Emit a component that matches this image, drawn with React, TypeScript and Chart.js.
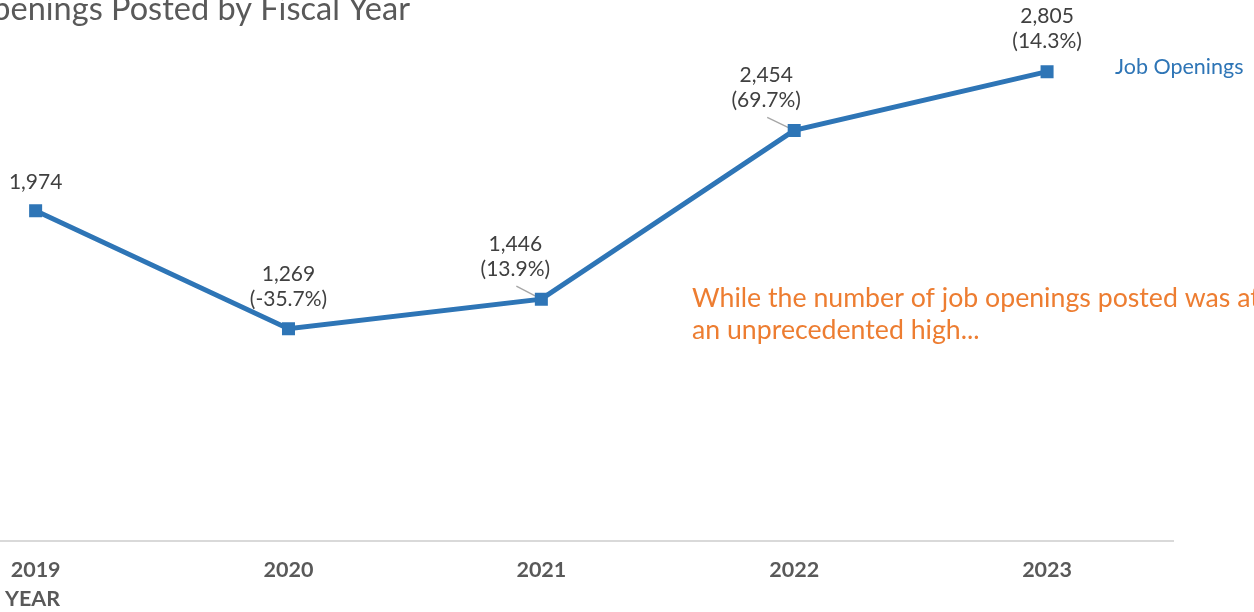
import React, { useEffect, useRef } from "react";
import { Chart, registerables } from "chart.js";

Chart.register(...registerables);

const CATEGORIES = ["2019", "2020", "2021", "2022", "2023"];
const JOB_OPENINGS = [1974, 1269, 1446, 2454, 2805];
const PCT_CHANGE: (string | null)[] = [null, "-35.7%", "13.9%", "69.7%", "14.3%"];
const SERIES_NAME = "Job Openings";
const TITLE = "Job Openings Posted by Fiscal Year";
const AXIS_TITLE = "FISCAL YEAR";
const NOTE_LINES = ["While the number of job openings posted was at", "an unprecedented high..."];

const BLUE = "#2E75B6";
const ORANGE = "#ED7D31";
const FONT = "Lato, 'Noto Sans', sans-serif";

// canvas is shifted left so the plot (as in the cropped original) extends off page
const SHIFT_X = 100;
const CANVAS_W = 1354;
const CANVAS_H = 612;

// label placement styles (pixel offsets relative to the point)
const LABEL_DX = [0, 0, -26, -28, 0];
const LEADER = [false, false, true, true, false];

const overlayPlugin = {
  id: "overlay",
  beforeDatasetsDraw(chart: any) {
    const ctx = chart.ctx;
    const meta = chart.getDatasetMeta(0);
    ctx.save();
    ctx.strokeStyle = "#A6A6A6";
    ctx.lineWidth = 1.3;
    meta.data.forEach((pt: any, i: number) => {
      if (!LEADER[i]) return;
      ctx.beginPath();
      ctx.moveTo(pt.x + LABEL_DX[i] + 1, pt.y - 13);
      ctx.lineTo(pt.x, pt.y);
      ctx.stroke();
    });
    ctx.restore();
  },
  afterDraw(chart: any) {
    const ctx = chart.ctx;
    const meta = chart.getDatasetMeta(0);
    ctx.save();
    // title
    ctx.font = `32.5px ${FONT}`;
    ctx.fillStyle = "#595959";
    ctx.textAlign = "right";
    ctx.textBaseline = "alphabetic";
    ctx.fillText(TITLE, 410 + SHIFT_X, 20);

    // data labels
    ctx.font = `21px ${FONT}`;
    ctx.fillStyle = "#404040";
    ctx.textAlign = "center";
    ctx.textBaseline = "middle";
    meta.data.forEach((pt: any, i: number) => {
      const v = JOB_OPENINGS[i].toLocaleString("en-US");
      const x = pt.x + LABEL_DX[i];
      const p = PCT_CHANGE[i];
      if (p) {
        ctx.fillText(v, x, pt.y - 55);
        ctx.fillText(`(${p})`, x, pt.y - 30);
      } else {
        ctx.fillText(v, x, pt.y - 29);
      }
    });

    // legend
    ctx.font = `21.5px ${FONT}`;
    ctx.fillStyle = BLUE;
    ctx.textAlign = "left";
    ctx.fillText(SERIES_NAME, 1115 + SHIFT_X, 67);

    // note
    ctx.font = `26.7px ${FONT}`;
    ctx.fillStyle = ORANGE;
    NOTE_LINES.forEach((t, i) => ctx.fillText(t, 692 + SHIFT_X, 298 + i * 32));

    // axis title
    ctx.font = `bold 21.5px ${FONT}`;
    ctx.fillStyle = "#595959";
    ctx.textAlign = "right";
    ctx.fillText(AXIS_TITLE, 60 + SHIFT_X, 599);
    ctx.restore();
  },
};

export default function App() {
  const ref = useRef<HTMLCanvasElement | null>(null);
  useEffect(() => {
    if (!ref.current) return;
    const chart = new Chart(ref.current, {
      type: "line",
      data: {
        labels: CATEGORIES,
        datasets: [
          {
            label: SERIES_NAME,
            data: JOB_OPENINGS,
            borderColor: BLUE,
            backgroundColor: BLUE,
            borderWidth: 5,
            tension: 0,
            pointStyle: "rect",
            pointRadius: 9.2,
            pointHoverRadius: 9.2,
            pointBackgroundColor: BLUE,
            pointBorderColor: BLUE,
            pointBorderWidth: 0,
          },
        ],
      },
      options: {
        responsive: false,
        animation: false,
        devicePixelRatio: 1,
        layout: { padding: { left: 8.5, right: 80.5, top: 39, bottom: 13 } },
        plugins: {
          legend: { display: false },
          title: { display: false },
          tooltip: { enabled: false },
        },
        scales: {
          x: {
            offset: true,
            grid: { display: true, color: "rgba(0,0,0,0)", drawTicks: false, drawOnChartArea: false },
            border: { display: true, color: "#D9D9D9", width: 2 },
            ticks: {
              padding: 16,
              color: "#595959",
              font: { family: FONT, size: 21.5, weight: "bold" },
            },
          },
          y: { display: false, min: 0, max: 3000 },
        },
      },
      plugins: [overlayPlugin],
    });
    return () => chart.destroy();
  }, []);
  return (
    <div
      style={{
        position: "fixed",
        left: 0,
        top: 0,
        width: 1254,
        height: 612,
        overflow: "hidden",
        background: "#fff",
      }}
    >
      <canvas
        ref={ref}
        width={CANVAS_W}
        height={CANVAS_H}
        style={{ position: "absolute", left: -SHIFT_X, top: 0, width: CANVAS_W, height: CANVAS_H }}
      />
    </div>
  );
}
